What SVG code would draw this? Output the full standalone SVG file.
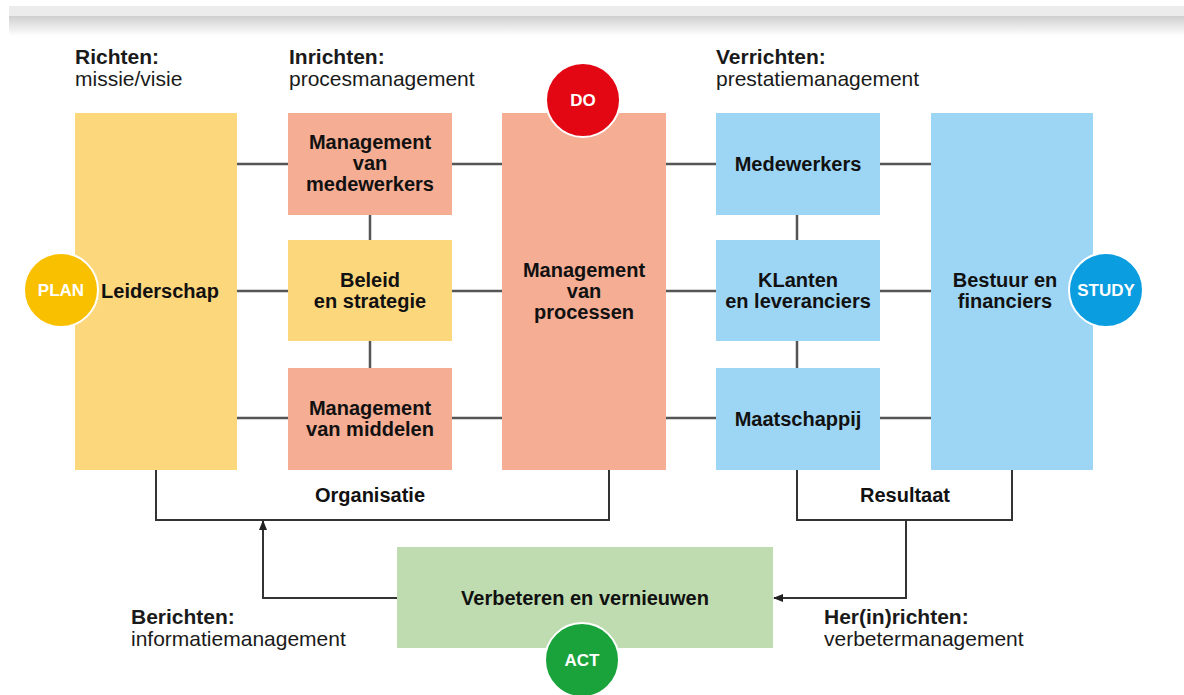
<svg xmlns="http://www.w3.org/2000/svg" width="1184" height="695" viewBox="0 0 1184 695">
<defs>
<linearGradient id="fade" x1="0" y1="0" x2="0" y2="1">
<stop offset="0" stop-color="#cfcfcf"/>
<stop offset="1" stop-color="#ffffff"/>
</linearGradient>
<marker id="arr" markerWidth="10" markerHeight="8" refX="9" refY="4" orient="auto" markerUnits="userSpaceOnUse">
<path d="M0,0 L10,4 L0,8 Z" fill="#222"/>
</marker>
<style>
.hd{font-family:"Liberation Sans",Arial,sans-serif;font-size:21px;fill:#1a1a1a}
.hdb{font-weight:bold}
.lbl{font-family:"Liberation Sans",Arial,sans-serif;font-size:20px;font-weight:bold;fill:#111;text-anchor:middle}
.circ{font-family:"Liberation Sans",Arial,sans-serif;font-size:17px;font-weight:bold;fill:#fff;text-anchor:middle}
.yel{fill:#fdd77c}
.pink{fill:#f5ad94}
.blue{fill:#9dd6f5}
.green{fill:#bfdcb0}
.ln{stroke:#555;stroke-width:2.5;fill:none}
.br{stroke:#333;stroke-width:2;fill:none}
</style>
</defs>
<rect width="1184" height="695" fill="#fff"/>
<rect x="9" y="6" width="1175" height="11" fill="#ececec"/>
<rect x="9" y="16" width="1175" height="20" fill="url(#fade)"/>

<g id="headers">
<text class="hd hdb" x="75" y="64">Richten:</text>
<text class="hd" x="75" y="86">missie/visie</text>
<text class="hd hdb" x="289" y="64">Inrichten:</text>
<text class="hd" x="289" y="86">procesmanagement</text>
<text class="hd hdb" x="716" y="64">Verrichten:</text>
<text class="hd" x="716" y="86">prestatiemanagement</text>
<text class="hd hdb" x="131" y="624">Berichten:</text>
<text class="hd" x="131" y="646">informatiemanagement</text>
<text class="hd hdb" x="824" y="624">Her(in)richten:</text>
<text class="hd" x="824" y="646">verbetermanagement</text>
</g>

<g id="connectors">
<path class="ln" d="M237,164H288 M452,164H502 M666,164H716 M880,164H931"/>
<path class="ln" d="M237,291H288 M452,291H502 M666,291H716 M880,291H931"/>
<path class="ln" d="M237,418H288 M452,418H502 M666,418H716 M880,418H931"/>
<path class="ln" d="M370,215V240 M370,341V368 M797,215V240 M797,341V368"/>
<path class="br" d="M156,470V520H609V470"/>
<path class="br" d="M797,470V520H1012V470"/>
<path class="br" d="M397,598H263V521" marker-end="url(#arr)"/>
<path class="br" d="M906,520V598H774" marker-end="url(#arr)"/>
<text class="lbl" x="370" y="502">Organisatie</text>
<text class="lbl" x="905" y="502">Resultaat</text>
</g>

<g id="leiderschap">
<rect class="yel" x="75" y="113" width="162" height="357"/>
<text class="lbl" x="160" y="298">Leiderschap</text>
</g>
<g id="mgmt-medewerkers">
<rect class="pink" x="288" y="113" width="164" height="102"/>
<text class="lbl" x="370" y="149">Management</text>
<text class="lbl" x="370" y="170">van</text>
<text class="lbl" x="370" y="191">medewerkers</text>
</g>
<g id="beleid">
<rect class="yel" x="288" y="240" width="164" height="101"/>
<text class="lbl" x="370" y="287">Beleid</text>
<text class="lbl" x="370" y="308">en strategie</text>
</g>
<g id="mgmt-middelen">
<rect class="pink" x="288" y="368" width="164" height="102"/>
<text class="lbl" x="370" y="415">Management</text>
<text class="lbl" x="370" y="436">van middelen</text>
</g>
<g id="mgmt-processen">
<rect class="pink" x="502" y="113" width="164" height="357"/>
<text class="lbl" x="584" y="277">Management</text>
<text class="lbl" x="584" y="298">van</text>
<text class="lbl" x="584" y="319">processen</text>
</g>
<g id="medewerkers">
<rect class="blue" x="716" y="113" width="164" height="102"/>
<text class="lbl" x="798" y="171">Medewerkers</text>
</g>
<g id="klanten">
<rect class="blue" x="716" y="240" width="164" height="101"/>
<text class="lbl" x="798" y="287">KLanten</text>
<text class="lbl" x="798" y="308">en leveranciers</text>
</g>
<g id="maatschappij">
<rect class="blue" x="716" y="368" width="164" height="102"/>
<text class="lbl" x="798" y="426">Maatschappij</text>
</g>
<g id="bestuur">
<rect class="blue" x="931" y="113" width="162" height="357"/>
<text class="lbl" x="1005" y="287">Bestuur en</text>
<text class="lbl" x="1005" y="308">financiers</text>
</g>
<g id="verbeteren">
<rect class="green" x="397" y="547" width="376" height="101"/>
<text class="lbl" x="585" y="605">Verbeteren en vernieuwen</text>
</g>

<g id="plan">
<circle cx="61" cy="290" r="37" fill="#f9c000" stroke="#fff" stroke-width="2"/>
<text class="circ" x="61" y="296">PLAN</text>
</g>
<g id="do">
<circle cx="583" cy="100" r="37" fill="#e30613" stroke="#fff" stroke-width="2"/>
<text class="circ" x="583" y="106">DO</text>
</g>
<g id="study">
<circle cx="1106" cy="290" r="37" fill="#0a9de0" stroke="#fff" stroke-width="2"/>
<text class="circ" x="1106" y="296">STUDY</text>
</g>
<g id="act">
<circle cx="582" cy="660" r="37" fill="#1aa33a" stroke="#fff" stroke-width="2"/>
<text class="circ" x="582" y="666">ACT</text>
</g>
</svg>
